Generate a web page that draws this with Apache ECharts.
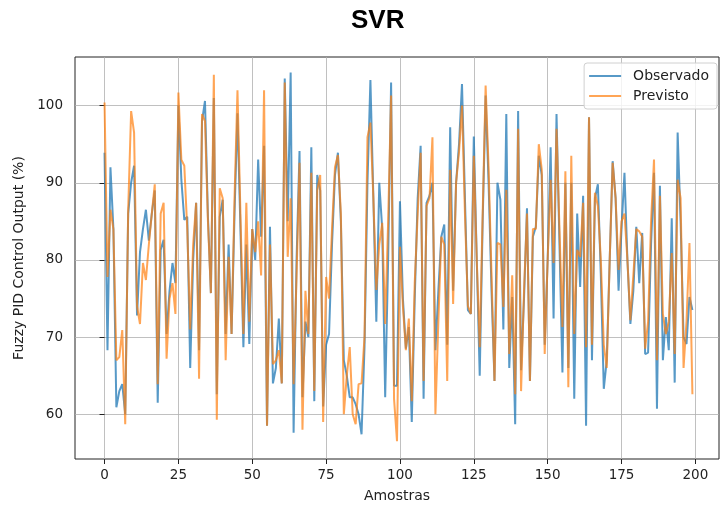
<!DOCTYPE html>
<html>
<head>
<meta charset="utf-8">
<script src="https://cdn.jsdelivr.net/npm/echarts@6/dist/echarts.min.js"></script>
<style>
  html, body { margin: 0; padding: 0; background: #fff; }
  #main { width: 721px; height: 508px; }
</style>
</head>
<body>
<div id="main"></div>
<script>
// valores (amostras 0..199)
const observado = [
  93.9, 68.3, 92, 84, 60.9, 63, 63.9, 60, 86, 90,
  92.2, 72.8, 81, 84, 86.5, 82.5, 86, 89, 61.5, 81.3,
  82.6, 70.4, 76, 79.6, 77, 100, 90.4, 85.2, 85.6, 66,
  80, 87.4, 68.3, 98, 100.6, 85.6, 75.7, 101, 62.6, 85.6,
  87.8, 70.4, 82, 70.4, 86, 99, 84, 68.7, 82, 69.1,
  84, 80, 93, 83, 94.8, 58.5, 84.3, 64, 66, 72.4,
  64, 103.5, 85, 104.3, 57.6, 80, 94.1, 62.2, 72, 70,
  94.6, 61.7, 91, 89, 61, 69, 70.4, 82, 91, 93.9,
  85, 67, 65, 62.2, 62.2, 61.3, 60, 57.4, 68.7, 90,
  103.3, 88, 72, 90, 84, 62.2, 80, 103, 63.7, 63.7,
  87.6, 75, 68.5, 71.3, 59, 75, 88, 94.8, 62, 87.4,
  88.3, 90, 68.3, 76, 83, 84.6, 69, 97.2, 76, 90,
  95, 102.8, 88, 73.5, 73, 96, 80, 65, 85, 101.3,
  90, 76, 64.3, 90, 87.8, 71, 98.9, 66, 75.2, 58.7,
  99.3, 65.7, 75, 86.7, 64.3, 83, 84.3, 93.5, 91, 69,
  80, 94.6, 72.4, 98.9, 82, 65.4, 90, 66, 90, 62,
  86, 76.5, 88.3, 58.5, 98.5, 67, 88, 89.8, 78, 63.3,
  67, 80, 92.8, 88, 76, 84, 91.3, 80, 71.7, 76,
  84.3, 77, 83.5, 67.8, 68, 82, 91.3, 60.7, 89.6, 67,
  72.6, 68.3, 85.4, 64.1, 96.5, 85, 70, 69.1, 75.2, 73.5
];
const previsto = [
  100.4, 77.8, 86.5, 84, 67, 67.4, 70.9, 58.7, 86.5, 99.3,
  96.5, 74, 71.7, 79.6, 77.4, 82, 86, 89.8, 63.9, 86,
  87.4, 67.2, 75, 77, 73, 101.7, 93, 92.2, 84, 71,
  82, 87.4, 64.6, 98.9, 98, 85, 75.7, 104, 59.3, 89.3,
  88, 67, 80.4, 70.4, 88, 102, 86, 70.4, 87.4, 72,
  84, 81, 85, 78, 102, 58.5, 82, 66.5, 67, 68.3,
  64, 103, 80.4, 88, 63.9, 78, 92.6, 58, 76, 70.4,
  91.3, 63, 89, 91, 59, 77.8, 75, 84, 92, 93.6,
  86, 60, 65, 68.7, 60, 58.7, 63.9, 64, 70, 95.9,
  97.8, 88, 76.1, 82, 84.8, 71.7, 85, 101.3, 62, 56.5,
  81.7, 74, 68.3, 72.4, 61.7, 77, 86, 93.9, 64.3, 87,
  88, 95.9, 60, 72, 83, 82, 64.3, 91.7, 74.3, 90,
  94, 100, 86, 74, 73, 93.5, 80, 68.7, 86, 102.6,
  92, 78, 64.3, 82.2, 82, 73.9, 89.1, 67.8, 78, 62.6,
  97, 63, 76, 86, 64.3, 84, 84, 95, 91.7, 67.8,
  80, 90.4, 79.6, 97, 84, 71.3, 91.5, 63.5, 93.5, 70.4,
  81.3, 80.4, 87.4, 68.7, 98.5, 69, 88.7, 87, 80, 69,
  66, 80, 92.6, 88, 78.7, 85, 86, 80, 72.2, 78,
  84, 83.7, 83, 68.5, 72, 85, 93, 67, 88.3, 73,
  70.4, 72, 80.9, 67.8, 90.4, 88, 66, 72, 82.2, 62.6
];
const xTicks = [0, 25, 50, 75, 100, 125, 150, 175, 200];
const yTicks = [60, 70, 80, 90, 100];

const toPoints = (arr) => arr.map((v, i) => [i, v]);

const axisCommon = {
  axisLine: { show: false },
  axisTick: { show: true, length: 5, lineStyle: { color: '#222', width: 1 } },
  axisLabel: { color: '#222', fontSize: 13.5, fontFamily: 'DejaVu Sans', margin: 12 },
  splitLine: { show: true, lineStyle: { color: '#b0b0b0', width: 0.8 } },
  nameTextStyle: { color: '#222', fontSize: 14, fontFamily: 'DejaVu Sans' },
  nameLocation: 'middle'
};

const option = {
  animation: false,
  title: {
    text: 'SVR',
    left: 346,
    top: 3,
    textStyle: { fontSize: 26, fontWeight: 'bold', fontFamily: 'Liberation Sans', color: '#000' }
  },
  legend: {
    orient: 'vertical',
    right: 4,
    top: 63,
    icon: 'rect',
    itemWidth: 32,
    itemHeight: 2,
    itemGap: 6,
    padding: [6, 8, 6, 5],
    borderColor: '#d0d0d0',
    borderWidth: 1,
    borderRadius: 3,
    backgroundColor: 'rgba(255,255,255,0.8)',
    textStyle: { color: '#222', fontSize: 14, fontFamily: 'DejaVu Sans', padding: [0, 0, 0, 7] },
    data: ['Observado', 'Previsto']
  },
  grid: {
    left: 75, right: 2, top: 57, bottom: 48,
    show: true, borderColor: '#222', borderWidth: 1, backgroundColor: '#fff'
  },
  xAxis: Object.assign({}, axisCommon, {
    type: 'value',
    min: -10,
    max: 208,
    name: 'Amostras',
    nameGap: 30,
    axisTick: Object.assign({}, axisCommon.axisTick, { customValues: xTicks }),
    axisLabel: Object.assign({}, axisCommon.axisLabel, { customValues: xTicks, margin: 9 })
  }),
  yAxis: Object.assign({}, axisCommon, {
    type: 'value',
    min: 54.2,
    max: 106.3,
    name: 'Fuzzy PID Control Output (%)',
    nameGap: 46,
    axisTick: Object.assign({}, axisCommon.axisTick, { customValues: yTicks }),
    axisLabel: Object.assign({}, axisCommon.axisLabel, { customValues: yTicks })
  }),
  series: [
    {
      name: 'Observado',
      type: 'line',
      showSymbol: false,
      data: toPoints(observado),
      itemStyle: { color: 'rgba(31,119,180,0.75)' },
      lineStyle: { color: 'rgba(31,119,180,0.75)', width: 2 }
    },
    {
      name: 'Previsto',
      type: 'line',
      showSymbol: false,
      data: toPoints(previsto),
      itemStyle: { color: 'rgba(255,127,14,0.7)' },
      lineStyle: { color: 'rgba(255,127,14,0.7)', width: 2 }
    }
  ]
};

echarts.init(document.getElementById('main')).setOption(option);
</script>
</body>
</html>
